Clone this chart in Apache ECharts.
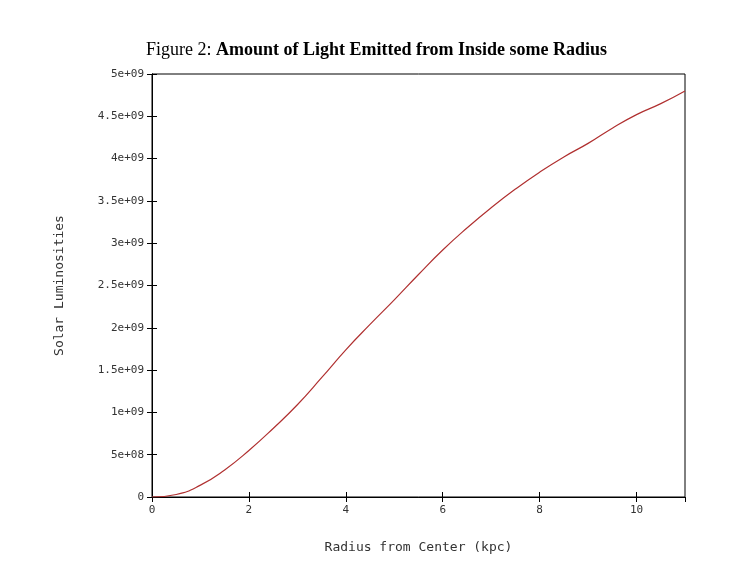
<!DOCTYPE html><html><head><meta charset="utf-8">
<script src="https://cdn.jsdelivr.net/npm/echarts@6/dist/echarts.min.js"></script>
<style>body{margin:0;background:#fff}#c{width:753px;height:583px}</style></head><body><div id="c"></div>
<script>
const radius=[0,0.5,1,1.5,2,2.5,3,3.5,4,4.5,5,5.5,6,6.5,7,7.5,8,8.5,9,9.5,10,10.5,11];
const lumin=[0,0.03,0.14,0.32,0.55,0.81,1.09,1.41,1.74,2.04,2.33,2.63,2.92,3.18,3.42,3.64,3.84,4.02,4.18,4.36,4.52,4.65,4.80].map(v=>v*1e9);
function yl(v){if(v===0)return '0';if(v<1e9)return (v/1e8)+'e+08';return (v/1e9)+'e+09';}
const chart=echarts.init(document.getElementById('c'));
const mono='DejaVu Sans Mono';
const tick={show:true,inside:true,length:5,lineStyle:{color:'#000'}};
chart.setOption({
 animation:false,
 title:{text:'{a|Figure 2: }{b|Amount of Light Emitted from Inside some Radius}',left:'center',top:36,
  textStyle:{fontWeight:'normal',rich:{a:{fontFamily:'Liberation Serif',fontSize:18,fontWeight:'normal',color:'#000'},b:{fontFamily:'Liberation Serif',fontSize:18,fontWeight:'bold',color:'#000'}}}},
 grid:{left:152,right:68,top:74,bottom:86,show:true,borderColor:'#000',borderWidth:1},
 xAxis:[{type:'value',min:0,max:11,interval:2,name:'Radius from Center (kpc)',nameLocation:'middle',nameGap:44,
  nameTextStyle:{fontFamily:mono,fontSize:13,color:'#333'},
  axisLine:{lineStyle:{color:'#000'}},axisTick:tick,splitLine:{show:false},
  axisLabel:{fontFamily:mono,fontSize:11,color:'#333',showMaxLabel:false}},
  {type:'value',position:'top',min:0,max:11,interval:2,axisLine:{show:true,lineStyle:{color:'#000'}},axisTick:tick,axisLabel:{show:false},splitLine:{show:false}}],
 yAxis:[{type:'value',min:0,max:5e9,interval:5e8,name:'Solar Luminosities',nameLocation:'middle',nameGap:86,
  nameTextStyle:{fontFamily:mono,fontSize:13,color:'#333'},
  axisLine:{show:true,lineStyle:{color:'#000'}},axisTick:tick,splitLine:{show:false},
  axisLabel:{fontFamily:mono,fontSize:11,color:'#333',formatter:yl}},
  {type:'value',position:'right',min:0,max:5e9,interval:5e8,axisLine:{show:true,lineStyle:{color:'#000'}},axisTick:tick,axisLabel:{show:false},splitLine:{show:false}}],
 series:[{type:'line',data:radius.map((r,i)=>[r,lumin[i]]),smooth:true,showSymbol:false,lineStyle:{color:'#b03030',width:1.2}}]
});
</script></body></html>
